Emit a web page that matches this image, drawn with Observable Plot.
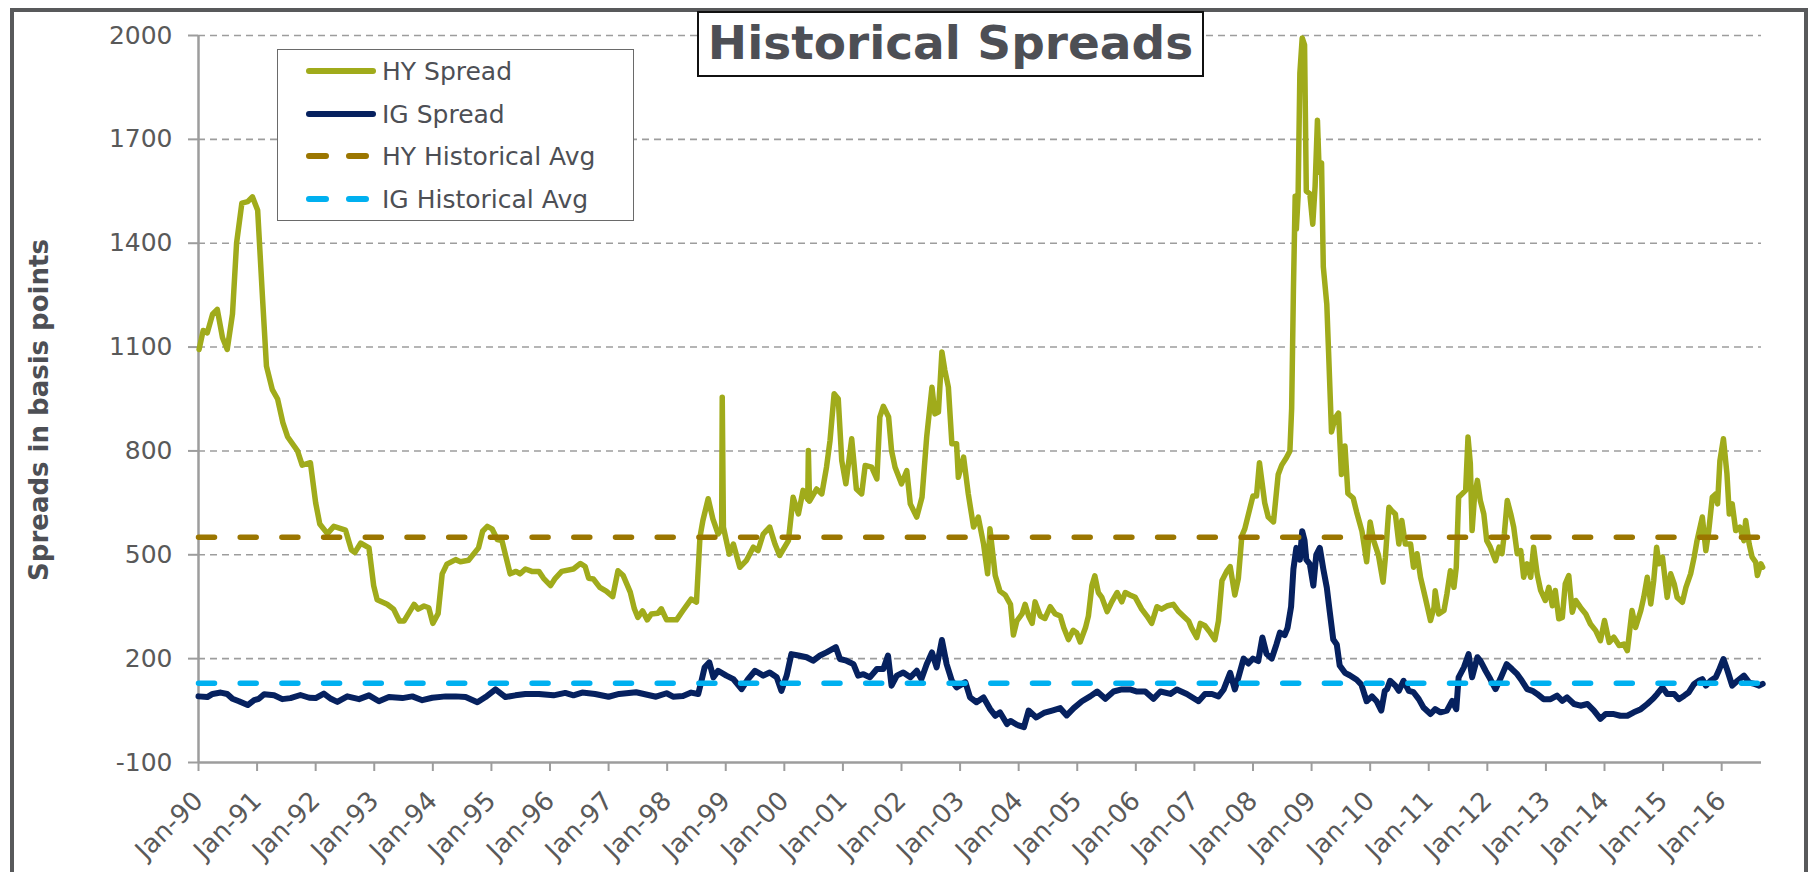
<!DOCTYPE html>
<html>
<head>
<meta charset="utf-8">
<script src="https://cdn.jsdelivr.net/npm/d3@7"></script>
<script src="https://cdn.jsdelivr.net/npm/@observablehq/plot@0.6"></script>
<style>
  body { margin: 0; background: #fff; font-family: Verdana, "DejaVu Sans", sans-serif; }
  #wrap { position: relative; width: 1813px; height: 872px; overflow: hidden; background: #fff; }
  #chart { position: absolute; left: 0; top: 0; }
  #frame { position: absolute; left: 10px; top: 8px; width: 1798px; height: 920px; border: 4px solid #58595b; box-sizing: border-box; pointer-events: none; }
  #title { position: absolute; left: 697px; top: 11px; width: 507px; height: 66px; border: 2px solid #111; background: #fff; box-sizing: border-box;
           font-family: Verdana, "DejaVu Sans", sans-serif; font-weight: bold; font-size: 47px; color: #4d4f55; text-align: center; line-height: 60px; white-space: nowrap; }
  #legend { position: absolute; left: 277px; top: 49px; width: 357px; height: 172px; border: 1.5px solid #6a6a6a; background: #fff; box-sizing: border-box; }
  #ytitle { position: absolute; left: 39px; top: 410px; transform: translate(-50%, -50%) rotate(-90deg); white-space: nowrap;
            font-family: Verdana, "DejaVu Sans", sans-serif; font-weight: bold; font-size: 26px; color: #4d4f55; }
</style>
</head>
<body>
<div id="wrap">
  <div id="chart"></div>
  <div id="frame"></div>
  <div id="title"></div>
  <div id="legend"></div>
  <div id="ytitle"></div>
</div>
<script>
// ---------------- data (x = decimal year) ----------------
const titleText = "Historical Spreads";
const yAxisTitle = "Spreads in basis points";

const hyYears = [1990.01,1990.08,1990.15,1990.24,1990.32,1990.41,1990.49,1990.58,1990.65,1990.74,1990.84,1990.92,1991.01,1991.09,1991.16,1991.26,1991.35,1991.44,1991.52,1991.69,1991.77,1991.91,1992.00,1992.07,1992.20,1992.31,1992.51,1992.61,1992.67,1992.77,1992.91,1992.99,1993.05,1993.22,1993.33,1993.43,1993.51,1993.68,1993.75,1993.85,1993.93,1994.00,1994.09,1994.16,1994.24,1994.39,1994.47,1994.61,1994.78,1994.85,1994.93,1995.01,1995.10,1995.18,1995.32,1995.42,1995.49,1995.58,1995.69,1995.81,1995.89,1996.01,1996.09,1996.20,1996.40,1996.52,1996.60,1996.66,1996.74,1996.85,1996.96,1997.07,1997.16,1997.25,1997.37,1997.44,1997.50,1997.58,1997.66,1997.73,1997.84,1997.90,1997.99,1998.16,1998.27,1998.41,1998.50,1998.56,1998.61,1998.70,1998.78,1998.87,1998.93,1998.94,1998.96,1999.06,1999.13,1999.24,1999.35,1999.47,1999.55,1999.64,1999.75,1999.84,1999.92,2000.07,2000.15,2000.24,2000.32,2000.40,2000.41,2000.43,2000.55,2000.64,2000.72,2000.78,2000.85,2000.92,2000.98,2001.05,2001.15,2001.23,2001.32,2001.38,2001.49,2001.58,2001.63,2001.69,2001.78,2001.83,2001.89,2002.00,2002.09,2002.15,2002.26,2002.35,2002.43,2002.52,2002.57,2002.63,2002.69,2002.74,2002.80,2002.86,2002.94,2002.97,2003.06,2003.14,2003.23,2003.31,2003.40,2003.47,2003.51,2003.60,2003.68,2003.77,2003.86,2003.91,2003.97,2004.06,2004.11,2004.17,2004.23,2004.28,2004.37,2004.45,2004.54,2004.62,2004.71,2004.77,2004.85,2004.93,2004.99,2005.05,2005.14,2005.19,2005.25,2005.30,2005.36,2005.42,2005.51,2005.59,2005.68,2005.76,2005.82,2005.90,2005.99,2006.10,2006.19,2006.27,2006.36,2006.44,2006.53,2006.64,2006.73,2006.81,2006.90,2006.95,2007.04,2007.10,2007.18,2007.27,2007.35,2007.41,2007.47,2007.55,2007.61,2007.69,2007.75,2007.81,2007.86,2007.95,2008.00,2008.06,2008.11,2008.20,2008.26,2008.35,2008.43,2008.49,2008.57,2008.63,2008.66,2008.69,2008.72,2008.74,2008.77,2008.80,2008.84,2008.88,2008.91,2008.97,2009.02,2009.06,2009.10,2009.13,2009.17,2009.20,2009.26,2009.29,2009.34,2009.40,2009.46,2009.51,2009.57,2009.62,2009.71,2009.77,2009.86,2009.94,2010.00,2010.06,2010.14,2010.22,2010.26,2010.32,2010.37,2010.43,2010.49,2010.54,2010.60,2010.69,2010.74,2010.80,2010.86,2010.94,2011.03,2011.09,2011.11,2011.17,2011.26,2011.31,2011.37,2011.43,2011.47,2011.51,2011.57,2011.63,2011.67,2011.71,2011.74,2011.78,2011.83,2011.88,2011.94,2011.99,2012.05,2012.14,2012.20,2012.25,2012.29,2012.34,2012.40,2012.45,2012.51,2012.57,2012.62,2012.68,2012.74,2012.79,2012.85,2012.91,2012.99,2013.05,2013.11,2013.16,2013.22,2013.28,2013.33,2013.39,2013.45,2013.51,2013.59,2013.68,2013.76,2013.85,2013.93,2014.00,2014.08,2014.16,2014.25,2014.33,2014.39,2014.47,2014.53,2014.62,2014.67,2014.73,2014.79,2014.84,2014.89,2014.93,2014.99,2015.07,2015.13,2015.19,2015.24,2015.33,2015.39,2015.47,2015.53,2015.58,2015.67,2015.73,2015.78,2015.84,2015.90,2015.93,2015.97,2016.03,2016.09,2016.13,2016.18,2016.24,2016.31,2016.38,2016.41,2016.47,2016.52,2016.58,2016.61,2016.67,2016.70];
const hyValues = [1093,1148,1141,1195,1209,1127,1093,1195,1400,1516,1520,1534,1495,1250,1045,977,950,882,841,800,759,766,650,589,561,582,571,514,507,534,520,411,370,357,343,309,309,357,343,352,347,302,330,445,473,486,480,484,520,568,582,575,544,541,445,452,445,459,452,452,432,411,432,452,459,475,466,432,430,406,395,379,454,440,392,344,319,338,312,329,331,344,312,312,339,372,363,551,599,662,604,560,575,955,580,502,531,464,483,522,512,560,580,531,498,541,666,618,686,660,801,655,690,676,753,830,965,951,772,705,835,690,676,758,753,719,898,929,898,801,753,705,743,647,609,666,840,984,907,912,1086,1033,984,821,821,724,782,676,580,609,532,445,575,440,395,384,357,268,309,330,357,323,302,364,323,316,350,330,323,289,255,282,275,248,289,323,411,439,391,377,336,364,391,364,391,384,377,343,323,302,350,343,352,357,336,323,309,289,261,302,295,275,255,309,425,452,466,384,432,555,575,636,670,670,766,650,609,595,732,759,780,800,923,1264,1536,1441,1536,1891,1993,1973,1550,1543,1455,1564,1755,1605,1632,1332,1223,1086,855,895,909,732,814,677,664,623,568,480,595,541,500,421,493,637,627,618,531,599,531,531,464,503,435,377,310,348,396,329,339,387,454,406,464,666,676,686,840,763,570,666,715,657,618,541,522,483,522,503,560,657,618,580,503,512,435,474,435,522,445,397,368,406,353,397,315,319,416,440,334,368,348,329,300,281,252,310,247,262,238,242,223,339,290,339,377,435,358,425,522,474,493,377,445,416,377,363,406,445,493,541,609,512,570,666,676,647,772,835,734,618,647,570,580,541,599,531,493,479,440,474,464];

const igYears = [1990.00,1990.15,1990.24,1990.38,1990.49,1990.58,1990.69,1990.84,1990.95,1991.03,1991.12,1991.29,1991.43,1991.57,1991.74,1991.89,1992.00,1992.14,1992.26,1992.37,1992.54,1992.74,1992.91,1993.08,1993.25,1993.48,1993.65,1993.82,1993.99,1994.22,1994.39,1994.56,1994.76,1994.90,1995.07,1995.24,1995.41,1995.58,1995.81,1996.06,1996.26,1996.40,1996.55,1996.77,1997.00,1997.18,1997.47,1997.81,1997.99,1998.10,1998.27,1998.41,1998.53,1998.58,1998.64,1998.72,1998.79,1998.87,1999.01,1999.13,1999.27,1999.38,1999.50,1999.64,1999.75,1999.87,1999.95,2000.04,2000.12,2000.24,2000.38,2000.49,2000.61,2000.72,2000.88,2000.95,2001.06,2001.18,2001.26,2001.35,2001.46,2001.58,2001.69,2001.77,2001.83,2001.92,2002.03,2002.15,2002.26,2002.34,2002.43,2002.52,2002.60,2002.69,2002.77,2002.86,2002.94,2003.09,2003.17,2003.28,2003.40,2003.51,2003.60,2003.68,2003.80,2003.86,2003.97,2004.09,2004.17,2004.30,2004.43,2004.57,2004.71,2004.82,2004.94,2005.08,2005.22,2005.34,2005.48,2005.62,2005.76,2005.90,2006.02,2006.16,2006.30,2006.42,2006.59,2006.70,2006.87,2007.07,2007.18,2007.30,2007.41,2007.50,2007.61,2007.69,2007.75,2007.84,2007.92,2008.00,2008.09,2008.16,2008.23,2008.32,2008.40,2008.46,2008.54,2008.59,2008.65,2008.69,2008.74,2008.80,2008.84,2008.88,2008.91,2008.97,2009.03,2009.08,2009.14,2009.20,2009.26,2009.31,2009.37,2009.43,2009.48,2009.57,2009.65,2009.77,2009.85,2009.94,2010.03,2010.11,2010.19,2010.25,2010.29,2010.34,2010.43,2010.49,2010.57,2010.66,2010.74,2010.83,2010.91,2011.03,2011.11,2011.20,2011.31,2011.40,2011.47,2011.51,2011.60,2011.68,2011.74,2011.83,2011.88,2011.97,2012.05,2012.14,2012.22,2012.33,2012.42,2012.51,2012.59,2012.68,2012.77,2012.85,2012.96,2013.08,2013.19,2013.28,2013.36,2013.48,2013.59,2013.71,2013.82,2013.93,2014.02,2014.16,2014.27,2014.39,2014.50,2014.62,2014.73,2014.82,2014.90,2014.99,2015.07,2015.19,2015.27,2015.36,2015.44,2015.53,2015.61,2015.67,2015.73,2015.81,2015.90,2015.95,2016.03,2016.10,2016.18,2016.27,2016.38,2016.47,2016.56,2016.64,2016.70];
const igValues = [91,89,98,102,98,84,77,66,80,84,97,94,83,86,95,87,86,99,84,75,91,83,94,77,89,86,91,80,87,91,91,89,74,89,111,89,94,98,98,94,101,94,102,98,90,98,103,90,100,90,92,102,98,132,175,189,146,165,151,141,112,141,165,151,160,146,107,151,213,209,204,194,209,218,233,199,194,184,151,155,146,170,170,209,122,151,160,146,165,141,184,218,175,254,184,136,117,132,88,74,88,55,35,45,11,20,9,2,50,30,43,50,57,36,57,77,91,105,84,105,111,111,105,105,84,105,98,111,98,77,98,98,91,111,159,111,145,200,186,200,193,261,214,200,241,275,268,289,350,459,520,486,568,541,486,473,411,500,520,459,405,336,255,241,180,159,152,139,125,77,91,77,50,107,112,136,122,107,136,107,103,83,59,40,54,45,50,78,54,146,175,213,146,204,194,165,141,112,141,184,170,155,136,112,107,98,83,83,93,78,88,69,64,69,50,26,40,40,35,35,45,54,69,83,98,117,98,98,83,93,103,127,136,141,122,136,146,165,199,165,122,136,151,131,127,122,127];

const hyAverage = 551;
const igAverage = 129;

const yTicks = [-100, 200, 500, 800, 1100, 1400, 1700, 2000];
const xTickYears = [1990,1991,1992,1993,1994,1995,1996,1997,1998,1999,2000,2001,2002,2003,2004,2005,2006,2007,2008,2009,2010,2011,2012,2013,2014,2015,2016];
const xTickLabels = ["Jan-90","Jan-91","Jan-92","Jan-93","Jan-94","Jan-95","Jan-96","Jan-97","Jan-98","Jan-99","Jan-00","Jan-01","Jan-02","Jan-03","Jan-04","Jan-05","Jan-06","Jan-07","Jan-08","Jan-09","Jan-10","Jan-11","Jan-12","Jan-13","Jan-14","Jan-15","Jan-16"];
const xDomain = [1990, 2016.68];

const legendLabels = ["HY Spread", "IG Spread", "HY Historical Avg", "IG Historical Avg"];
const legendColors = ["#a0ab1b", "#06215f", "#9b7600", "#00b0f0"];
const legendDashed = [false, false, true, true];

// ---------------- build ----------------
const hy = hyYears.map((x, i) => ({x, y: hyValues[i]}));
const ig = igYears.map((x, i) => ({x, y: igValues[i]}));
const avgRows = (v) => [{x: xDomain[0], y: v}, {x: xDomain[1], y: v}];

const FONT = "Verdana, 'DejaVu Sans', sans-serif";
const GRID = "#9d9d9d";
const TEXT = "#595959";

const chart = Plot.plot({
  width: 1813,
  height: 872,
  marginLeft: 198,
  marginRight: 52,
  marginTop: 35,
  marginBottom: 110,
  style: {background: "transparent", fontFamily: FONT, overflow: "visible"},
  x: {type: "linear", domain: xDomain, label: null},
  y: {domain: [-100, 2000], label: null},
  marks: [
    Plot.ruleY(yTicks.filter(d => d !== -100), {stroke: GRID, strokeWidth: 1.6, strokeDasharray: "7,5"}),
    Plot.ruleY([-100], {stroke: GRID, strokeWidth: 2.5}),
    Plot.ruleX([xDomain[0]], {stroke: GRID, strokeWidth: 2.5}),
    Plot.axisY({ticks: yTicks, tickSize: 10, tickPadding: 16, stroke: GRID, strokeWidth: 2,
                fill: TEXT, fontSize: 25, fontFamily: FONT, tickFormat: d => String(d)}),
    Plot.axisX({ticks: xTickYears, tickSize: 9, tickPadding: 25, tickRotate: -45, stroke: GRID, strokeWidth: 2,
                fill: TEXT, fontSize: 26, fontFamily: FONT,
                tickFormat: d => xTickLabels[xTickYears.indexOf(d)]}),
    Plot.line(hy, {x: "x", y: "y", stroke: legendColors[0], strokeWidth: 5.5, strokeLinejoin: "round", strokeLinecap: "round"}),
    Plot.line(ig, {x: "x", y: "y", stroke: legendColors[1], strokeWidth: 6, strokeLinejoin: "round", strokeLinecap: "round"}),
    Plot.line(avgRows(hyAverage), {x: "x", y: "y", stroke: legendColors[2], strokeWidth: 5.5, strokeDasharray: "16,25.7", strokeLinecap: "round"}),
    Plot.line(avgRows(igAverage), {x: "x", y: "y", stroke: legendColors[3], strokeWidth: 5.5, strokeDasharray: "16,25.7", strokeLinecap: "round"})
  ]
});
document.getElementById("chart").appendChild(chart);

// title, axis title
document.getElementById("title").textContent = titleText;
document.getElementById("ytitle").textContent = yAxisTitle;

// legend
const rowY = [21, 64, 106, 149];
let svg = `<svg width="355" height="170" xmlns="http://www.w3.org/2000/svg" style="position:absolute;left:0;top:0">`;
legendLabels.forEach((lab, i) => {
  const y = rowY[i];
  if (legendDashed[i]) {
    svg += `<line x1="31" x2="88" y1="${y}" y2="${y}" stroke="${legendColors[i]}" stroke-width="6" stroke-linecap="round" stroke-dasharray="17,23"/>`;
  } else {
    svg += `<line x1="31" x2="95" y1="${y}" y2="${y}" stroke="${legendColors[i]}" stroke-width="6" stroke-linecap="round"/>`;
  }
  svg += `<text x="104" y="${y}" dominant-baseline="central" font-family="${FONT.replace(/'/g, '&quot;')}" font-size="25" fill="#4d4f55">${lab}</text>`;
});
svg += `</svg>`;
document.getElementById("legend").innerHTML = svg;
</script>
</body>
</html>
